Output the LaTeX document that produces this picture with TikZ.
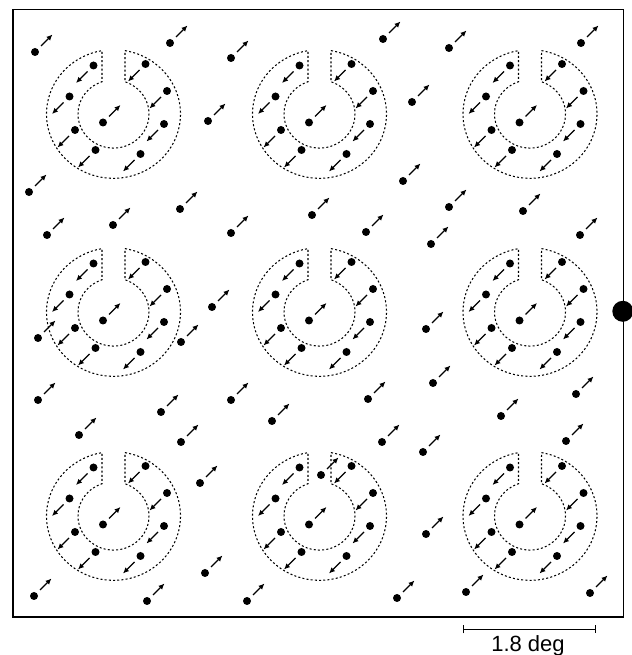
\documentclass[tikz,border=0pt]{standalone}
\usepackage{fontspec}
\usepackage{tikz}
\usetikzlibrary{arrows.meta}
\newfontfamily\barfont{Liberation Sans}

\tikzset{
  rim/.style={line width=1.05pt,dash pattern=on 2pt off 2.2pt},
  motion/.style={line width=1.3pt,-{Latex[length=6pt,width=5.5pt]}}
}
% one dot with its motion arrow, up-right or down-left
\newcommand{\dotup}[2]{%
  \begin{scope}[shift={(#1,#2)}]
    \fill (0,0) circle (4);
    \draw[motion] (6,6) -- (17.5,17.5);
  \end{scope}}
\newcommand{\dotdn}[2]{%
  \begin{scope}[shift={(#1,#2)}]
    \fill (0,0) circle (4);
    \draw[motion] (-6,-6) -- (-17.5,-17.5);
  \end{scope}}
% slotted annulus with its dots
\newcommand{\rfield}[2]{%
  \begin{scope}[shift={(#1,#2)}]
    \draw[rim,yscale=0.96] (80.1:67) arc[start angle=80.1,end angle=-260.1,radius=67]
      -- (108.9:35.5) arc[start angle=108.9,end angle=431.1,radius=35.5] -- cycle;
    \dotup{-10.5}{-8.5}
    \dotdn{-20}{48.5} \dotdn{-44}{17.5} \dotdn{-38.5}{-16} \dotdn{-18}{-36}
    \dotdn{27}{-40} \dotdn{50.5}{-10} \dotdn{53.5}{23} \dotdn{32}{50}
  \end{scope}}

\begin{document}
\begin{tikzpicture}[x=1pt,y=1pt]
  \useasboundingbox (0,0) rectangle (631,655);
  \draw[line width=1.6pt] (13,38) rectangle (623.5,645.5);
  \fill (622.8,343.7) circle (10.5);

  % rings
  \rfield{113.5}{541} \rfield{319.5}{541} \rfield{530}{541}
  \rfield{113.5}{343} \rfield{319.5}{343} \rfield{530}{343}
  \rfield{113.5}{139} \rfield{319.5}{139} \rfield{530}{139}

  % background dots
  \dotup{35}{603} \dotup{170}{612} \dotup{231}{597} \dotup{383}{616} \dotup{449}{607} \dotup{581}{612}
  \dotup{208}{534} \dotup{412}{553}
  \dotup{29}{463} \dotup{180}{446} \dotup{403}{474} \dotup{312}{440} \dotup{449}{448} \dotup{523}{444}
  \dotup{47}{420} \dotup{113}{430} \dotup{231}{422} \dotup{366}{423} \dotup{431}{411} \dotup{580}{420}
  \dotup{212}{348} \dotup{38}{317} \dotup{181}{313} \dotup{426}{326}
  \dotup{38}{255} \dotup{161}{243} \dotup{231}{255} \dotup{368}{256} \dotup{433}{272} \dotup{576}{261}
  \dotup{501}{239} \dotup{79}{220} \dotup{181}{213} \dotup{272}{234} \dotup{382}{213} \dotup{423}{203}
  \dotup{566}{214}
  \dotup{200}{172} \dotup{321}{180} \dotup{426}{121} \dotup{205}{82}
  \dotup{34}{59} \dotup{147}{54} \dotup{247}{54} \dotup{397}{57} \dotup{466}{63} \dotup{590}{62}

  % scale bar
  \draw[line width=1.1pt,{Bar[width=8pt]}-{Bar[width=8pt]}] (463.3,25.7) -- (595.7,25.7);
  \node[anchor=base,inner sep=0pt,font=\barfont\fontsize{22}{26}\selectfont] (scalelbl) at (528,4) {1.8 deg};
\end{tikzpicture}
\end{document}
